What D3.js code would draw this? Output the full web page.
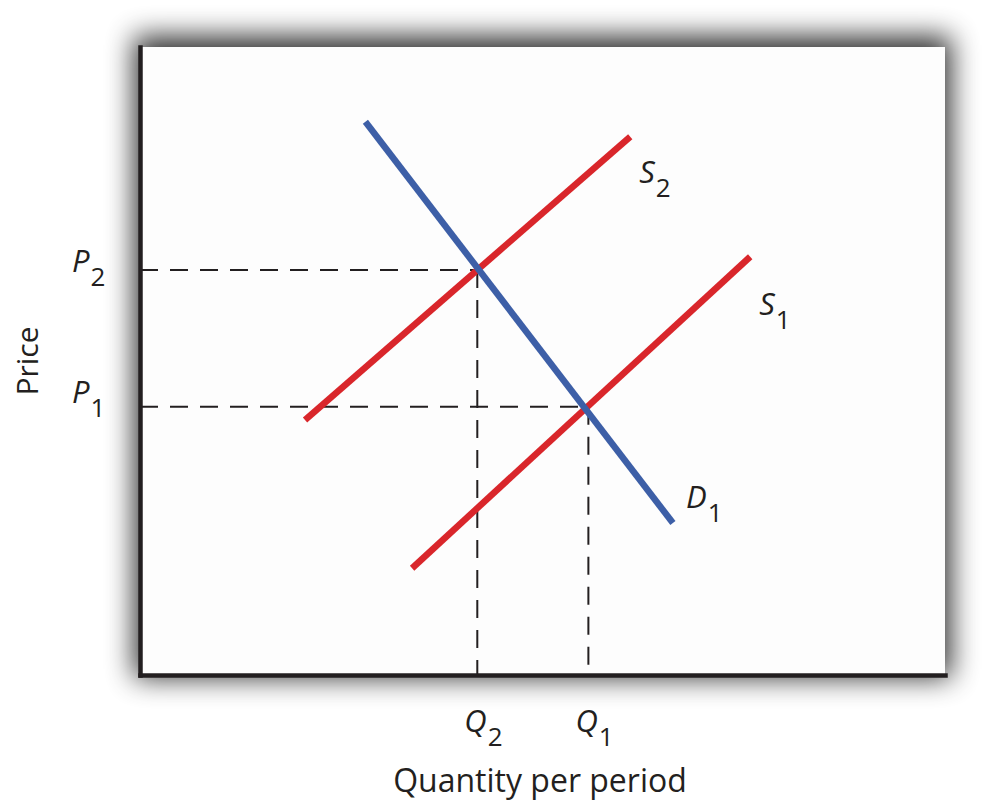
<!DOCTYPE html>
<html>
<head>
<meta charset="utf-8">
<script src="https://cdn.jsdelivr.net/npm/d3@7"></script>
<style>
  body { margin: 0; background: #fff; }
  text { font-family: "Open Sans", "Noto Sans", sans-serif; fill: #231f20; }
</style>
</head>
<body>
<div id="chart"></div>
<script>
// curve end points as [quantity, price], both on a 0-100 scale
var demandD1 = [[28.0, 88.1], [66.2, 24.2]];
var supplyS1 = [[33.8, 17.0], [75.8, 66.6]];
var supplyS2 = [[20.5, 40.6], [60.9, 85.7]];
var curveNames = ["D1", "S1", "S2"];

// equilibrium prices / quantities (index 0 = new, index 1 = old)
var priceLabels = ["P2", "P1"];
var priceValues = [64.5, 42.7];
var quantityLabels = ["Q2", "Q1"];
var quantityValues = [41.9, 55.7];

var svgWidth = 990;
var svgHeight = 803;

var margin = { top: 47, right: 45, bottom: 128, left: 140 };
var chartWidth = svgWidth - margin.left - margin.right;
var chartHeight = svgHeight - margin.top - margin.bottom;

var red = "#d9262b";
var blue = "#3d5fa7";
var ink = "#231f20";

var svg = d3.select("#chart").append("svg")
  .attr("width", svgWidth)
  .attr("height", svgHeight);

// blurred dark rect behind the plot box = shadow
svg.append("defs").append("filter")
  .attr("id", "blur")
  .attr("x", "-30%").attr("y", "-30%")
  .attr("width", "160%").attr("height", "160%")
  .append("feGaussianBlur")
  .attr("stdDeviation", 14);

var chartGroup = svg.append("g")
  .attr("transform", `translate(${margin.left}, ${margin.top})`);

var xScale = d3.scaleLinear().domain([0, 100]).range([0, chartWidth]);
var yScale = d3.scaleLinear().domain([0, 100]).range([chartHeight, 0]);

chartGroup.append("rect")
  .attr("x", -6)
  .attr("y", -11)
  .attr("width", chartWidth + 12)
  .attr("height", chartHeight + 14)
  .attr("fill", "#000")
  .attr("opacity", 0.8)
  .attr("filter", "url(#blur)");

chartGroup.append("rect")
  .attr("width", chartWidth)
  .attr("height", chartHeight)
  .attr("fill", "#fdfdfd");

// dashed guides from each equilibrium to the axes
var guides = chartGroup.append("g")
  .attr("stroke", ink)
  .attr("stroke-width", 2)
  .attr("stroke-dasharray", "18,12")
  .attr("fill", "none");

quantityValues.forEach(function(q, i) {
  var p = priceValues[i];
  guides.append("line")
    .attr("x1", xScale(0)).attr("x2", xScale(q))
    .attr("y1", yScale(p)).attr("y2", yScale(p));
  guides.append("line")
    .attr("x1", xScale(q)).attr("x2", xScale(q))
    .attr("y1", yScale(p)).attr("y2", yScale(0));
});

var line = d3.line()
  .x(d => xScale(d[0]))
  .y(d => yScale(d[1]));

var curves = [
  { name: "S2", pts: supplyS2, color: red },
  { name: "S1", pts: supplyS1, color: red },
  { name: "D1", pts: demandD1, color: blue }
];

chartGroup.selectAll(".curve")
  .data(curves)
  .enter().append("path")
  .attr("class", "curve")
  .attr("d", d => line(d.pts))
  .attr("fill", "none")
  .attr("stroke", d => d.color)
  .attr("stroke-width", 6.5)
  .attr("stroke-linecap", "butt");

// axes: just the heavy domain lines, labels are added by hand
var bottomAxis = d3.axisBottom(xScale).tickValues([]).tickSizeOuter(0);
var leftAxis = d3.axisLeft(yScale).tickValues([]).tickSizeOuter(0);

chartGroup.append("g")
  .classed("axis", true)
  .attr("transform", "translate(0, " + chartHeight + ")")
  .call(bottomAxis);

chartGroup.append("g")
  .classed("axis", true)
  .call(leftAxis);

chartGroup.selectAll(".axis path")
  .attr("stroke", ink)
  .attr("stroke-width", 4.5)
  .attr("stroke-linecap", "square");

// italic letter with upright subscript
function subLabel(g, name, x, y) {
  var t = g.append("text")
    .attr("x", x)
    .attr("y", y)
    .style("font-size", "31px");
  t.append("tspan")
    .style("font-style", "italic")
    .text(name[0]);
  t.append("tspan")
    .attr("dy", 14)
    .attr("dx", 1)
    .style("font-size", "26px")
    .text(name.slice(1));
}

// curve labels sit off the curve end points
var curveLabelAt = {
  D1: { pt: demandD1[1], dx: 13, dy: -15 },
  S1: { pt: supplyS1[1], dx: 9, dy: 58 },
  S2: { pt: supplyS2[1], dx: 9, dy: 46 }
};
curveNames.forEach(function(n) {
  var c = curveLabelAt[n];
  subLabel(chartGroup, n, xScale(c.pt[0]) + c.dx, yScale(c.pt[1]) + c.dy);
});

var priceNudge = [2, -4];
priceLabels.forEach(function(n, i) {
  subLabel(chartGroup, n, -68, yScale(priceValues[i]) + priceNudge[i]);
});

quantityLabels.forEach(function(n, i) {
  subLabel(chartGroup, n, xScale(quantityValues[i]) - 13, chartHeight + 57);
});

// axis titles
svg.append("text")
  .attr("transform", "translate(38, 361) rotate(-90)")
  .attr("text-anchor", "middle")
  .style("font-size", "30px")
  .text("Price");

svg.append("text")
  .attr("x", 540)
  .attr("y", 792)
  .attr("text-anchor", "middle")
  .style("font-size", "32px")
  .text("Quantity per period");
</script>
</body>
</html>
